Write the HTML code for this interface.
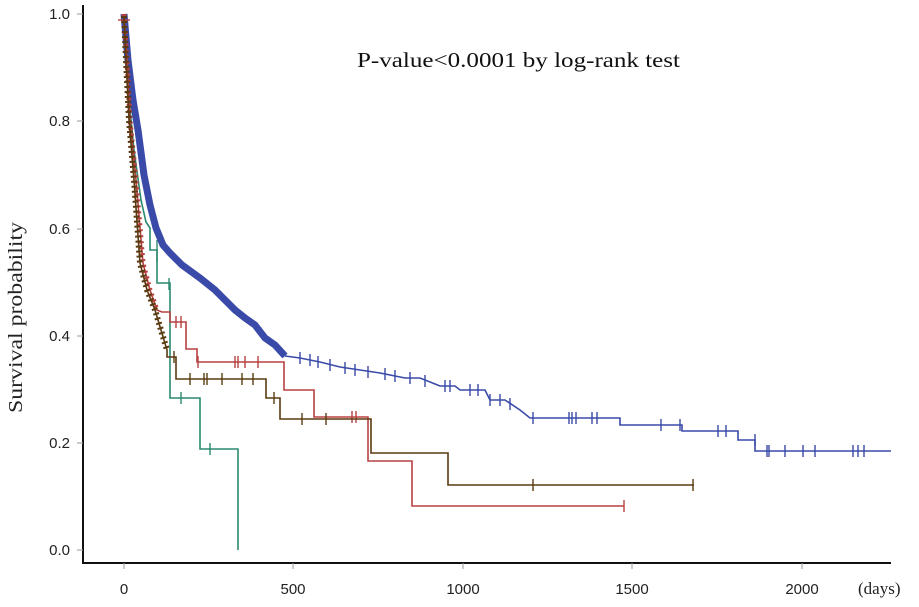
<!DOCTYPE html>
<html><head><meta charset="utf-8"><style>
html,body{margin:0;padding:0;background:#fff}
svg{display:block}
</style></head><body>
<svg width="919" height="607" viewBox="0 0 919 607" xmlns="http://www.w3.org/2000/svg">
<rect width="919" height="607" fill="#fff"/>
<path d="M83 5 V563 H891" fill="none" stroke="#111" stroke-width="2"/>
<g stroke="#999" stroke-width="1">
<line x1="77" y1="14" x2="83" y2="14"/><line x1="77" y1="121" x2="83" y2="121"/>
<line x1="77" y1="229" x2="83" y2="229"/><line x1="77" y1="336" x2="83" y2="336"/>
<line x1="77" y1="443" x2="83" y2="443"/><line x1="77" y1="550" x2="83" y2="550"/>
<line x1="124" y1="563" x2="124" y2="569"/><line x1="293" y1="563" x2="293" y2="569"/>
<line x1="463" y1="563" x2="463" y2="569"/><line x1="632" y1="563" x2="632" y2="569"/>
<line x1="802" y1="563" x2="802" y2="569"/>
</g>
<g font-family="Liberation Sans, sans-serif" font-size="15" fill="#222" text-anchor="end">
<text x="70" y="19">1.0</text><text x="70" y="126">0.8</text><text x="70" y="234">0.6</text>
<text x="70" y="341">0.4</text><text x="70" y="448">0.2</text><text x="70" y="555">0.0</text>
</g>
<g font-family="Liberation Sans, sans-serif" font-size="15" fill="#222" text-anchor="middle">
<text x="124" y="594">0</text><text x="293" y="594">500</text><text x="463" y="594">1000</text>
<text x="632" y="594">1500</text><text x="802" y="594">2000</text>
</g>
<text x="858" y="594" font-family="Liberation Serif, serif" font-size="17" fill="#222">(days)</text>
<text x="357" y="67" font-family="Liberation Serif, serif" font-size="21" fill="#111" textLength="323" lengthAdjust="spacingAndGlyphs">P-value&lt;0.0001 by log-rank test</text>
<text transform="translate(22,413) rotate(-90)" font-family="Liberation Serif, serif" font-size="20" fill="#222" textLength="191" lengthAdjust="spacingAndGlyphs">Survival probability</text>

<!-- green -->
<path d="M124 20 L128 90 L134 150 L141 200 L146 222 L150 228 V250 H157 V283 H170 V398 H200 V449 H238 V550" fill="none" stroke="#2a8a70" stroke-width="1.6"/>
<g stroke="#2a8a70" stroke-width="1.4"><line x1="157" y1="240" x2="157" y2="262"/><line x1="169" y1="278" x2="169" y2="290"/><line x1="181" y1="392" x2="181" y2="404"/><line x1="210" y1="443" x2="210" y2="455"/></g>

<!-- blue -->
<path d="M124 14 L128 60 L133 100 L138 130 L144 175 L150 205 L156 228 L163 245 L170 253 L182 265 L200 278 L215 290 L225 300 L235 310 L245 318 L255 325 L265 338 L275 345 L285 356" fill="none" stroke="#3a4aa8" stroke-width="7"/>
<path d="M285 356 L300 358 L320 362 L340 367 L360 370 L380 373 L405 378 H420 L440 386 H455 L460 390 H485 L490 400 H505 L520 410 L530 418 H620 V425 H682 V431 H738 V440 H755 V451 H891" fill="none" stroke="#3a4aa8" stroke-width="1.6"/>
<g stroke="#3a4aa8" stroke-width="1.4">
<line x1="300" y1="352" x2="300" y2="364"/><line x1="310" y1="354" x2="310" y2="366"/><line x1="318" y1="356" x2="318" y2="368"/>
<line x1="330" y1="359" x2="330" y2="371"/><line x1="345" y1="362" x2="345" y2="374"/><line x1="355" y1="364" x2="355" y2="376"/>
<line x1="368" y1="366" x2="368" y2="378"/><line x1="385" y1="368" x2="385" y2="380"/><line x1="395" y1="370" x2="395" y2="382"/>
<line x1="410" y1="372" x2="410" y2="384"/><line x1="425" y1="375" x2="425" y2="387"/><line x1="445" y1="380" x2="445" y2="392"/>
<line x1="450" y1="380" x2="450" y2="392"/><line x1="470" y1="384" x2="470" y2="396"/><line x1="478" y1="384" x2="478" y2="396"/>
<line x1="490" y1="394" x2="490" y2="406"/><line x1="500" y1="394" x2="500" y2="406"/><line x1="510" y1="398" x2="510" y2="410"/>
<line x1="533" y1="412" x2="533" y2="424"/><line x1="569" y1="412" x2="569" y2="424"/><line x1="572" y1="412" x2="572" y2="424"/>
<line x1="576" y1="412" x2="576" y2="424"/><line x1="592" y1="412" x2="592" y2="424"/><line x1="597" y1="412" x2="597" y2="424"/>
<line x1="661" y1="419" x2="661" y2="431"/><line x1="680" y1="419" x2="680" y2="431"/><line x1="718" y1="425" x2="718" y2="437"/>
<line x1="726" y1="425" x2="726" y2="437"/><line x1="755" y1="434" x2="755" y2="446"/><line x1="767" y1="445" x2="767" y2="457"/>
<line x1="769" y1="445" x2="769" y2="457"/><line x1="785" y1="445" x2="785" y2="457"/><line x1="803" y1="445" x2="803" y2="457"/>
<line x1="815" y1="445" x2="815" y2="457"/><line x1="853" y1="445" x2="853" y2="457"/><line x1="858" y1="445" x2="858" y2="457"/>
<line x1="864" y1="445" x2="864" y2="457"/>
</g>

<!-- red -->
<path d="M124 14 L127 60 L130 120 L136 180 L143 263 L150 290 L157 310 L162 312 H170 V322 H186 V349 H197 V362 H284 V390 H314 V417 H368 V461 H412 V506 H624" fill="none" stroke="#b84040" stroke-width="1.6"/>
<path d="M124 14 L127 60 L130 120 L136 180 L143 263 L150 290 L157 310" fill="none" stroke="#b84040" stroke-width="5" stroke-dasharray="2 4"/>
<g stroke="#b84040" stroke-width="1.4">
<line x1="124" y1="14" x2="124" y2="28"/><line x1="118" y1="20" x2="130" y2="20"/>
<line x1="176" y1="316" x2="176" y2="328"/><line x1="181" y1="316" x2="181" y2="328"/>
<line x1="198" y1="356" x2="198" y2="368"/><line x1="235" y1="356" x2="235" y2="368"/><line x1="238" y1="356" x2="238" y2="368"/>
<line x1="245" y1="356" x2="245" y2="368"/><line x1="258" y1="356" x2="258" y2="368"/><line x1="352" y1="411" x2="352" y2="423"/>
<line x1="356" y1="411" x2="356" y2="423"/><line x1="624" y1="500" x2="624" y2="512"/>
</g>

<!-- brown -->
<path d="M124 16 L126 60 L129 120 L134 180 L140 263 L147 290 L155 310 L161 330 L167 350 L167 357 H176 V379 H266 V398 H280 V419 H371 V453 H448 V485 H694" fill="none" stroke="#5a3a10" stroke-width="1.6"/>
<path d="M124 16 L126 60 L129 120 L134 180 L140 263 L147 290 L155 310 L161 330 L167 350" fill="none" stroke="#5a3a10" stroke-width="6" stroke-dasharray="2 3"/>
<g stroke="#5a3a10" stroke-width="1.4">
<line x1="174" y1="351" x2="174" y2="363"/><line x1="190" y1="373" x2="190" y2="385"/><line x1="204" y1="373" x2="204" y2="385"/>
<line x1="207" y1="373" x2="207" y2="385"/><line x1="222" y1="373" x2="222" y2="385"/><line x1="242" y1="373" x2="242" y2="385"/>
<line x1="253" y1="373" x2="253" y2="385"/><line x1="274" y1="392" x2="274" y2="404"/><line x1="302" y1="413" x2="302" y2="425"/>
<line x1="326" y1="413" x2="326" y2="425"/><line x1="533" y1="479" x2="533" y2="491"/><line x1="693" y1="479" x2="693" y2="491"/>
</g>
</svg>
</body></html>
